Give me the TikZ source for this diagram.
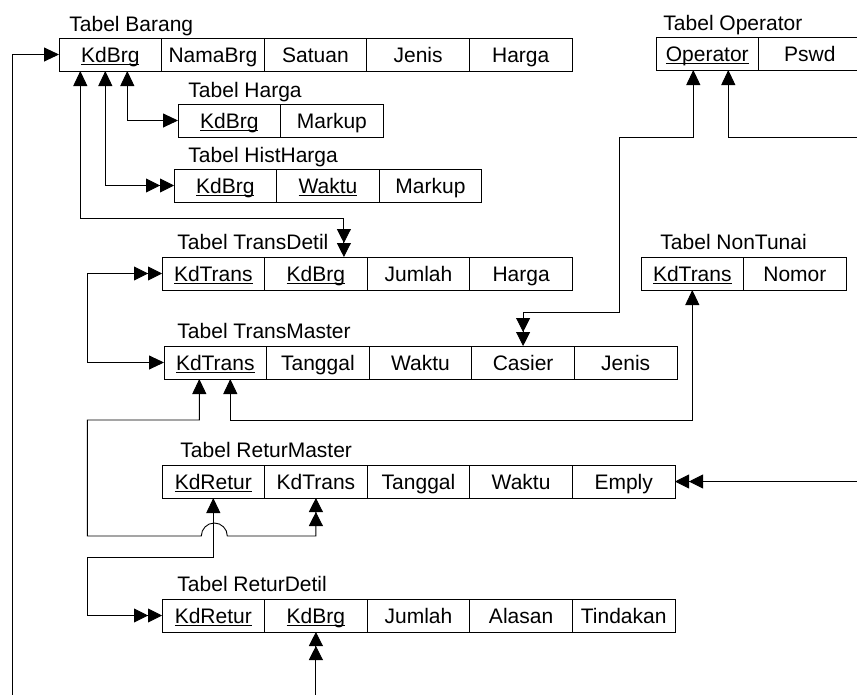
\documentclass[tikz,border=0pt]{standalone}
\usepackage{fontspec}
\setmainfont{Liberation Sans}
\usepackage{tikz}
\usetikzlibrary{arrows.meta}
\newcommand{\keyfield}[1]{\setbox0\hbox{#1}\rlap{\rule[-2.2pt]{\wd0}{1pt}}\box0}

\begin{document}
\begin{tikzpicture}[x=1pt,y=-1pt,line width=0.9pt,font=\fontsize{21}{25}\selectfont,
  tipone/.tip={Triangle[length=15pt,width=14pt]},
  tipmany/.tip={Triangle[length=14pt,width=14pt] Triangle[length=14pt,width=14pt]}]
\tikzstyle{field}=[draw,minimum width=102.6pt,minimum height=33pt,inner sep=0,outer sep=0,text height=16.5pt,text depth=0pt]
\tikzstyle{caption}=[anchor=base west,inner sep=0]
\useasboundingbox (0,0) rectangle (857,694);
% Tabel Barang
\node[caption] (barLbl) at (69,31) {Tabel Barang};
\node[field] (bar1) at (110.3,54.5) {\keyfield{KdBrg}};
\node[field] (bar2) at (212.9,54.5) {NamaBrg};
\node[field] (bar3) at (315.5,54.5) {Satuan};
\node[field] (bar4) at (418.1,54.5) {Jenis};
\node[field] (bar5) at (520.7,54.5) {Harga};
% Tabel Operator
\node[caption] (opLbl) at (663,30) {Tabel Operator};
\node[field] (op1) at (707.3,53.5) {\keyfield{Operator}};
\node[field] (op2) at (809.9,53.5) {Pswd};
% Tabel Harga
\node[caption] (hrgLbl) at (188,97) {Tabel Harga};
\node[field] (hrg1) at (229.3,120.5) {\keyfield{KdBrg}};
\node[field] (hrg2) at (331.9,120.5) {Markup};
% Tabel HistHarga
\node[caption] (histLbl) at (188,162) {Tabel HistHarga};
\node[field] (hist1) at (225.3,185.5) {\keyfield{KdBrg}};
\node[field] (hist2) at (327.9,185.5) {\keyfield{Waktu}};
\node[field] (hist3) at (430.5,185.5) {Markup};
% Tabel TransDetil
\node[caption] (tdLbl) at (177,249) {Tabel TransDetil};
\node[field] (td1) at (213.3,273.5) {\keyfield{KdTrans}};
\node[field] (td2) at (315.9,273.5) {\keyfield{KdBrg}};
\node[field] (td3) at (418.5,273.5) {Jumlah};
\node[field] (td4) at (521.1,273.5) {Harga};
% Tabel NonTunai
\node[caption] (ntLbl) at (660,249) {Tabel NonTunai};
\node[field] (nt1) at (692.3,273.5) {\keyfield{KdTrans}};
\node[field] (nt2) at (794.9,273.5) {Nomor};
% Tabel TransMaster
\node[caption] (tmLbl) at (177,338) {Tabel TransMaster};
\node[field] (tm1) at (215.3,362.5) {\keyfield{KdTrans}};
\node[field] (tm2) at (317.9,362.5) {Tanggal};
\node[field] (tm3) at (420.5,362.5) {Waktu};
\node[field] (tm4) at (523.1,362.5) {Casier};
\node[field] (tm5) at (625.7,362.5) {Jenis};
% Tabel ReturMaster
\node[caption] (rmLbl) at (180,457) {Tabel ReturMaster};
\node[field] (rm1) at (213.3,481.5) {\keyfield{KdRetur}};
\node[field] (rm2) at (315.9,481.5) {KdTrans};
\node[field] (rm3) at (418.5,481.5) {Tanggal};
\node[field] (rm4) at (521.1,481.5) {Waktu};
\node[field] (rm5) at (623.7,481.5) {Emply};
% Tabel ReturDetil
\node[caption] (rdLbl) at (177,591) {Tabel ReturDetil};
\node[field] (rd1) at (213.3,615.5) {\keyfield{KdRetur}};
\node[field] (rd2) at (315.9,615.5) {\keyfield{KdBrg}};
\node[field] (rd3) at (418.5,615.5) {Jumlah};
\node[field] (rd4) at (521.1,615.5) {Alasan};
\node[field] (rd5) at (623.7,615.5) {Tindakan};
% relations
\coordinate (leftEnd) at (12,700);
\draw[-tipone] (leftEnd) |- (bar1.west);
\draw[tipone-tipone] ([xshift=17]bar1.south) |- (hrg1.west);
\draw[tipone-tipmany] ([xshift=-5]bar1.south) |- (hist1.west);
\draw[tipone-tipmany] ([xshift=-30]bar1.south) -- ++(0,147) -| ([xshift=28]td2.north);
\draw[tipmany-tipone] (td1.west) -- ++(-75,0) |- (tm1.west);
\draw[tipone-tipmany] ([xshift=-16]tm1.south) -- ++(0,41) -| ++(-112,116) -- ++(114,0)
  arc[start angle=180,end angle=360,radius=13] -| (rm2.south);
\draw[tipone-tipone] ([xshift=15]tm1.south) -- ++(0,41) -| (nt1.south);
\draw[tipone-tipmany] (rm1.south) -- ++(0,59) -| ([xshift=-75]rd1.west) -- (rd1.west);
\draw[tipmany-] (rd2.south) -- ++(0,70);
\draw[tipmany-] (rm5.east) -- ++(190,0);
\draw[tipone-tipmany] ([xshift=-14]op1.south) -- ++(0,67) -| ++(-74,175) -| (tm4.north);
\draw[tipone-] ([xshift=21]op1.south) -- ++(0,67) -- ++(150,0);
\end{tikzpicture}
\end{document}
